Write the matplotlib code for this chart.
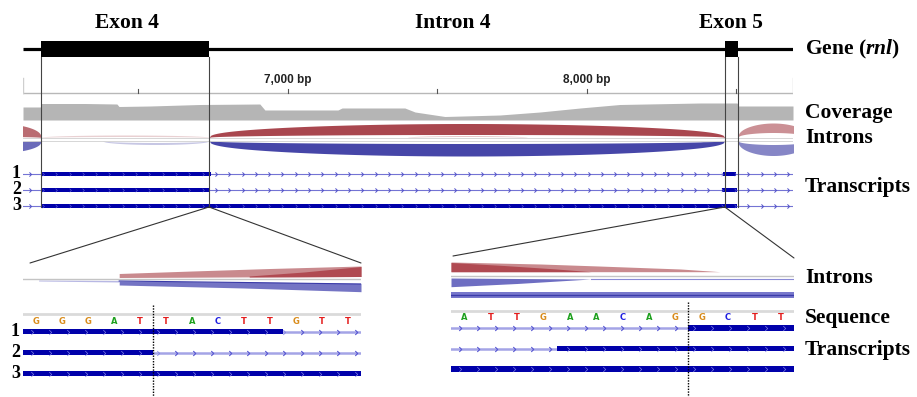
import numpy as np
import matplotlib
matplotlib.use("Agg")
import matplotlib.pyplot as plt
from matplotlib.path import Path
from matplotlib.patches import Rectangle, ConnectionPatch

W, H, DPI = 917, 397, 100

# ---------------- data ----------------
view_start, view_end = 6114, 8689            # visible genomic window (bp)
exon4 = (6174, 6736)
exon5 = (8461, 8505)
region_labels = ["Exon 4", "Intron 4", "Exon 5"]
region_label_bp = [6461, 7550, 8483]
ruler_ticks = [6500, 7000, 7500, 8000, 8500]
ruler_tick_labels = {7000: "7,000 bp", 8000: "8,000 bp"}

# coverage (relative depth)
cov_bp = [6114, 6172, 6176, 6321, 6428, 6435, 6538, 6706, 6906, 6923, 7167, 7181,
          7391, 7425, 7525, 7709, 7843, 7977, 8110, 8378, 8462, 8502, 8507, 8689]
cov_depth = [13, 13, 16.5, 16.5, 16, 13.5, 14, 15.5, 16, 10, 10, 12,
             12, 8, 3.5, 5, 8, 12, 15.5, 17, 17, 17, 14, 14]

# splice junctions (sashimi arcs)
junc_start = [5900, 5900, 6736, 6736, 8505, 8505, 6174, 6380, 7400, 8380]
junc_end = [6174, 6174, 8461, 8461, 8740, 8740, 6736, 6736, 7800, 8461]
junc_strand = ['+', '-', '+', '-', '+', '-', '+', '-', '+', '-']
junc_outer = [14, 12, 14, 15.5, 14.5, 15, 2.5, 4, 2, 3]
junc_inner = [1, 1, 3, 3, 5, 4, 1, 2, 1, 1.5]
junc_alpha = [0.8, 0.8, 1.0, 1.0, 0.6, 0.65, 0.25, 0.3, 0.3, 0.3]

# transcripts (thick exon blocks)
tx_names = ["1", "2", "3"]
tx_blocks = [[(6174, 6743), (8455, 8499)],
             [(6174, 6736), (8451, 8502)],
             [(6174, 8502)]]

# zoomed panels
seq_left = "GGGATTACTTGTT"
seq_left_start = 6732
seq_right = "ATTGAACAGGCTT"
seq_right_start = 8452
zl_blocks = [[(6731.5, 6741.5)], [(6731.5, 6736.5)], [(6731.5, 6744.5)]]
zr_blocks = [[(8460.5, 8464.5)], [(8455.5, 8464.5)], [(8451.5, 8464.5)]]
zl_boundary = 6736.5
zr_boundary = 8460.5

# zoomed intron bands: (x, top height, bottom height, colour)
zl_bands = [
    ([6735.2, 6738, 6741, 6744.5], [5.5, 8, 10.5, 13], [1.5, 1.8, 2.2, 2.5], "#c98a8e"),
    ([6740.2, 6742.3, 6744.5], [3, 7, 12.5], [2, 2.2, 2.5], "#b04a52"),
    ([6732.1, 6735.2], [-1, -1.5], [-2, -3], "#b8b8e4"),
    ([6735.2, 6740, 6744.5], [-2, -3, -4.3], [-6, -9, -12.7], "#7474c4"),
]
zr_bands = [
    ([8451.5, 8454.9, 8457.1, 8460.2, 8461.7], [13.5, 11.5, 9.5, 6.5, 3.8],
     [3.8, 3.8, 3.8, 3.8, 3.8], "#c98a8e"),
    ([8451.5, 8453.5, 8455.5, 8456.8], [13, 10, 6.5, 3.8], [3.8, 3.8, 3.8, 3.8], "#b04a52"),
    ([8451.5, 8454, 8456.8], [-2.5, -3, -3.5], [-11.2, -8, -3.5], "#6e6ec2"),
    ([8451.5, 8464.5], [-16.8, -16.8], [-22.2, -22.2], "#7878cc"),
]

# ---------------- styles ----------------
RED, BLUE = "#a9474f", "#4646a8"
EXON_BLUE = "#0000aa"
SERIF = "Liberation Serif"
plt.rcParams['mathtext.fontset'] = 'custom'
plt.rcParams['mathtext.it'] = 'Liberation Serif:italic:bold'
plt.rcParams['mathtext.rm'] = 'Liberation Serif:bold'

chev = Path([(-0.5, 1), (0.5, 0), (-0.5, -1)], [Path.MOVETO, Path.LINETO, Path.LINETO])

fig = plt.figure(figsize=(W / DPI, H / DPI), dpi=DPI)


def add_ax(x0, x1, y0, y1):
    ax = fig.add_axes([x0 / W, 1 - y1 / H, (x1 - x0) / W, (y1 - y0) / H])
    ax.set_axis_off()
    return ax


# coverage track
ax_cov = add_ax(23, 793, 100, 120)
ax_cov.set_xlim(view_start, view_end)
ax_cov.set_ylim(0, 20)
ax_cov.fill_between(cov_bp, 0, cov_depth, color="#b5b5b5", lw=0)

# main top track (x in bp, y in layout units)
ax = add_ax(23, 793, 0, 230)
ax.set_xlim(view_start, view_end)
ax.set_ylim(230, 0)

# gene model
ax.plot([view_start, view_end], [49, 49], color="black", lw=2.3, solid_capstyle='butt')
for s, e in (exon4, exon5):
    ax.add_patch(Rectangle((s, 41), e - s, 16, color="black", lw=0))
    for xx in (s, e):
        ax.plot([xx, xx], [57, 207], color="#444444", lw=0.8, zorder=4)
for lab, bp in zip(region_labels, region_label_bp):
    ax.text(bp, 23, lab, ha="center", va="center", family=SERIF, weight="bold",
            fontsize=15.5, clip_on=False)

# ruler
ax.plot([view_start, view_end], [93, 93], color="#b8b8b8", lw=1)
for xx in (view_start, view_end):
    ax.plot([xx, xx], [78, 93], color="#cfcfcf", lw=1)
for t in ruler_ticks:
    ax.plot([t, t], [88.5, 93], color="#555555", lw=0.8)
    if t in ruler_tick_labels:
        ax.text(t, 80, ruler_tick_labels[t], ha="center", va="center", fontsize=8.5,
                weight="bold", family="Liberation Sans", color="#222222")

# junction arcs
BASE_UP, BASE_DN = 137.5, 140.5
ax.plot([view_start, view_end], [BASE_UP, BASE_UP], color="#d0d0d0", lw=0.6)
ax.plot([view_start, view_end], [BASE_DN, BASE_DN], color="#d0d0d0", lw=0.6)
for s, e, st, ho, hi, al in zip(junc_start, junc_end, junc_strand, junc_outer,
                                junc_inner, junc_alpha):
    xs = np.linspace(s, e, 300)
    f = np.sin(np.pi * (xs - s) / (e - s)).clip(0) ** 0.4
    if st == '+':
        ax.fill_between(xs, BASE_UP - hi * f, BASE_UP - ho * f, color=RED, alpha=al, lw=0)
    else:
        ax.fill_between(xs, BASE_DN + hi * f, BASE_DN + ho * f, color=BLUE, alpha=al, lw=0)

# transcripts (top)
row_y = [174, 190, 206]
sp_top = 44.5
for name, blocks, y in zip(tx_names, tx_blocks, row_y):
    ax.plot([view_start, view_end], [y, y], color="#7474d4", lw=0.8, zorder=1)
    cx = np.arange(view_start + sp_top / 2, view_end, sp_top)
    inside = np.zeros_like(cx, dtype=bool)
    for s, e in blocks:
        inside |= (cx > s - 8) & (cx < e + 8)
    ax.plot(cx[~inside], [y] * (~inside).sum(), ls="none", marker=chev, ms=3,
            mew=0.7, mec="#5050c8", mfc="none", zorder=1)
    for s, e in blocks:
        ax.add_patch(Rectangle((s, y - 2.3), e - s, 4.6, color=EXON_BLUE, lw=0, zorder=2))
    ax.plot(cx[inside], [y] * inside.sum(), ls="none", marker=chev, ms=2.5,
            mew=0.4, mec="#6a6ad8", mfc="none", zorder=3)


# ---------------- zoomed panels ----------------
def zoom_panel(x0, x1, bases, start, blocks, boundary, bands, base_y, seq_y, let_y,
               rows, dot_top):
    a = add_ax(x0, x1, 250, 397)
    lo, hi = start - 0.5, start + len(bases) - 0.5
    a.set_xlim(lo, hi)
    a.set_ylim(397, 250)
    pxb = (x1 - x0) / (hi - lo)
    # introns
    a.plot([lo, hi], [base_y, base_y], color="#c4c4c4", lw=1)
    for xs, top, bot, col in bands:
        a.fill_between(xs, base_y - np.array(top), base_y - np.array(bot), color=col, lw=0)
    # sequence
    a.plot([lo, hi], [seq_y, seq_y], color="#dadada", lw=2)
    cmap = {"G": "#d98c1c", "A": "#1ea01e", "T": "#e41c1c", "C": "#2020e0"}
    for i, b in enumerate(bases):
        a.text(start + i, let_y, b, ha="center", va="center", fontsize=6,
               weight="bold", color=cmap[b])
    # transcripts
    sp = 18 / pxb
    for blks, y in zip(blocks, rows):
        a.plot([lo, hi], [y, y], color="#a4a4e6", lw=1.8, zorder=1)
        cx = np.arange(lo + sp / 2, hi, sp)
        inside = np.zeros_like(cx, dtype=bool)
        for s, e in blks:
            inside |= (cx > s - 0.2) & (cx < e + 0.2)
        a.plot(cx[~inside], [y] * (~inside).sum(), ls="none", marker=chev, ms=3.5,
               mew=0.8, mec="#5656d2", mfc="none", zorder=1)
        for s, e in blks:
            a.add_patch(Rectangle((s, y - 2.7), e - s, 5.4, color=EXON_BLUE, lw=0, zorder=2))
        a.plot(cx[inside], [y] * inside.sum(), ls="none", marker=chev, ms=3.5,
               mew=0.5, mec="#7e7ee4", mfc="none", zorder=3)
    a.plot([boundary, boundary], [dot_top, 397], color="black", lw=1, ls=(0, (1, 1)),
           clip_on=False, zorder=5)
    return a


ax_bl = zoom_panel(23, 361, seq_left, seq_left_start, zl_blocks, zl_boundary, zl_bands,
                   279, 313.5, 321, [331.5, 352.5, 373.5], 305)
ax_br = zoom_panel(451, 794, seq_right, seq_right_start, zr_blocks, zr_boundary, zr_bands,
                   275.5, 310.5, 318, [328, 348.5, 369], 302)
# extra lines in intron tracks
ax_br.plot([8456.8, 8464.5], [279, 279], color="#8a8ad6", lw=0.8)
ax_br.plot([8451.5, 8464.5], [294.5, 294.5], color="#3c3caa", lw=1)
ax_bl.plot([6735.2, 6740, 6744.5], [281, 282.5, 284], color="#3a3aa8", lw=0.8)

# connectors from top track to zoomed panels
for xa, xb, yb in [(exon4[1], 30, 263), (exon4[1], 361, 263),
                   (exon5[0], 453, 256), (exon5[0], 794, 258)]:
    con = ConnectionPatch(xyA=(xa, 207), coordsA=ax.transData,
                          xyB=(xb, H - yb), coordsB="figure pixels",
                          color="#333333", lw=0.8)
    fig.add_artist(con)

# labels (figure pixel overlay)
ov = add_ax(0, W, 0, H)
ov.set_xlim(0, W)
ov.set_ylim(H, 0)
lab_kw = dict(family=SERIF, weight="bold", fontsize=15.5, va="center", ha="left")
ov.text(805, 49, r"Gene ($\mathit{rnl}$)", **lab_kw)
ov.text(805, 113, "Coverage", **lab_kw)
ov.text(805, 138, "Introns", **lab_kw)
ov.text(805, 187, "Transcripts", **lab_kw)
ov.text(805, 278, "Introns", **lab_kw)
ov.text(805, 318, "Sequence", **lab_kw)
ov.text(805, 350, "Transcripts", **lab_kw)
for name, y in zip(tx_names, row_y):
    ov.text(21, y, name, family=SERIF, weight="bold", fontsize=13, ha="right", va="center")
for name, y in zip(tx_names, [331.5, 352.5, 373.5]):
    ov.text(20, y, name, family=SERIF, weight="bold", fontsize=13, ha="right", va="center")

fig.savefig("out.png", dpi=DPI)
